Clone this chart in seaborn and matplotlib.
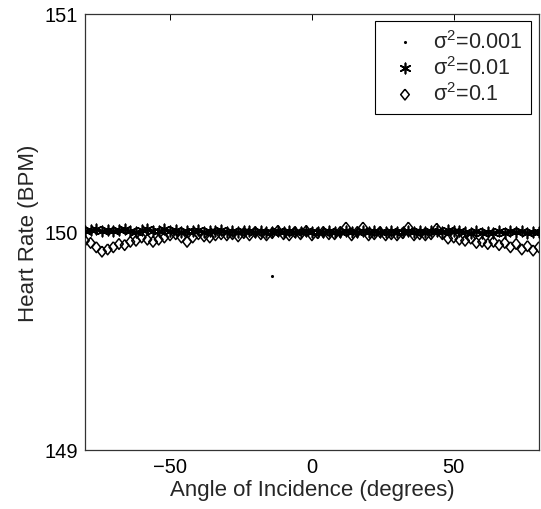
import numpy as np
import pandas as pd
import seaborn as sns
import matplotlib.pyplot as plt

# ---------------- data ----------------
angles = [-80, -78, -76, -74, -72, -70, -68, -66, -64, -62, -60, -58, -56, -54, -52, -50,
          -48, -46, -44, -42, -40, -38, -36, -34, -32, -30, -28, -26, -24, -22, -20, -18,
          -16, -14, -12, -10, -8, -6, -4, -2, 0, 2, 4, 6, 8, 10, 12, 14, 16, 18, 20, 22,
          24, 26, 28, 30, 32, 34, 36, 38, 40, 42, 44, 46, 48, 50, 52, 54, 56, 58, 60, 62,
          64, 66, 68, 70, 72, 74, 76, 78, 80]

hr_var_0001 = [150.000, 150.000, 150.000, 150.000, 150.000, 150.000, 150.000, 150.000,
               150.000, 150.000, 150.000, 150.000, 150.000, 150.000, 150.000, 150.000,
               150.000, 150.000, 150.000, 150.000, 150.000, 150.000, 150.000, 150.000,
               150.000, 150.000, 150.000, 150.000, 150.000, 150.000, 150.000, 150.000,
               150.000, 149.800, 150.000, 150.000, 150.000, 150.000, 150.000, 150.000,
               150.000, 150.000, 150.000, 150.000, 150.000, 150.000, 150.000, 150.000,
               150.000, 150.000, 150.000, 150.000, 150.000, 150.000, 150.000, 150.000,
               150.000, 150.000, 150.000, 150.000, 150.000, 150.000, 150.000, 150.000,
               150.000, 150.000, 150.000, 150.000, 150.000, 150.000, 150.000, 150.000,
               150.000, 150.000, 150.000, 150.000, 150.000, 150.000, 150.000, 150.000,
               150.000]

hr_var_001 = [150.004, 150.008, 150.012, 150.006, 150.010, 150.004, 150.008, 150.012,
              150.006, 150.002, 150.010, 150.014, 150.004, 150.006, 150.012, 150.004,
              150.008, 150.002, 150.006, 150.004, 150.010, 150.002, 150.006, 150.004,
              150.008, 150.002, 150.006, 150.000, 150.004, 150.006, 150.002, 150.004,
              149.998, 150.002, 150.004, 150.000, 150.004, 150.002, 149.998, 150.004,
              150.000, 150.002, 149.998, 150.004, 150.000, 150.002, 150.004, 149.998,
              150.002, 150.006, 150.000, 150.004, 150.002, 149.998, 150.004, 150.002,
              150.000, 150.006, 150.002, 150.004, 150.000, 150.004, 150.006, 150.002,
              150.008, 150.004, 150.006, 150.002, 149.996, 150.004, 149.994, 150.002,
              149.996, 150.006, 149.994, 150.004, 149.998, 150.006, 149.996, 150.002,
              149.998]

hr_var_01 = [149.960, 149.950, 149.930, 149.910, 149.920, 149.930, 149.945, 149.940,
             149.955, 149.960, 149.975, 149.965, 149.955, 149.965, 149.975, 149.985,
             149.990, 149.975, 149.955, 149.975, 149.990, 149.980, 149.975, 149.985,
             149.990, 149.985, 149.990, 149.980, 149.995, 149.985, 150.000, 149.990,
             149.985, 149.995, 150.005, 149.990, 149.985, 150.000, 149.990, 150.005,
             149.985, 149.995, 150.000, 149.990, 149.990, 150.000, 150.020, 149.985,
             150.000, 150.020, 149.985, 149.990, 150.000, 149.985, 149.990, 149.985,
             149.995, 150.020, 149.985, 149.990, 149.985, 149.990, 150.015, 149.990,
             149.970, 149.975, 149.965, 149.960, 149.970, 149.950, 149.955, 149.945,
             149.955, 149.940, 149.950, 149.930, 149.945, 149.920, 149.935, 149.915,
             149.930]

labels = ["σ$^{2}$=0.001", "σ$^{2}$=0.01", "σ$^{2}$=0.1"]
x_ticks = [-50, 0, 50]
y_ticks = [149, 150, 151]

# ---------------- style ----------------
sns.set_theme(style="white")
plt.rcParams['font.family'] = ['Liberation Sans', 'DejaVu Sans']
plt.rcParams['mathtext.fontset'] = 'custom'
plt.rcParams['mathtext.rm'] = 'Liberation Sans'
plt.rcParams['mathtext.it'] = 'Liberation Sans'
plt.rcParams['mathtext.bf'] = 'Liberation Sans'

fig = plt.figure(figsize=(5.41, 5.10), dpi=100)
ax = fig.add_axes([0.157, 0.1157, 0.839, 0.855])

df = pd.DataFrame({"angle": angles, "a": hr_var_0001, "b": hr_var_001, "c": hr_var_01})

diamond = [(0, 1), (0.8, 0), (0, -1), (-0.8, 0), (0, 1)]

sns.scatterplot(data=df, x="angle", y="c", ax=ax, marker=diamond, s=60,
                facecolors="none", edgecolor="black", linewidth=1.1,
                label=labels[2], zorder=2)
sns.scatterplot(data=df, x="angle", y="b", ax=ax, marker=(6, 2, 0), s=55,
                color="black", edgecolor="black", linewidth=1.2,
                label=labels[1], zorder=3)
sns.scatterplot(data=df, x="angle", y="a", ax=ax, marker="o", s=5,
                color="black", edgecolor="black", linewidth=0,
                label=labels[0], zorder=4)

ax.set_xlim(-80, 80)
ax.set_ylim(149, 151)
ax.set_xticks(x_ticks)
ax.set_yticks(y_ticks)
ax.set_xlabel("Angle of Incidence (degrees)", fontsize=16, labelpad=2)
ax.set_ylabel("Heart Rate (BPM)", fontsize=16, labelpad=4)
ax.tick_params(direction="in", top=True, right=True, length=4, width=0.7,
               labelsize=14.5, colors="black", pad=5)
for sp in ax.spines.values():
    sp.set_visible(True)
    sp.set_color("#333333")
    sp.set_linewidth(0.9)

handles, labs = ax.get_legend_handles_labels()
order = [labs.index(l) for l in labels]
leg = ax.legend([handles[i] for i in order], [labs[i] for i in order],
                loc="upper right", frameon=True, fancybox=False,
                edgecolor="black", framealpha=1, fontsize=15.5,
                borderaxespad=0.35, labelspacing=0.15, handletextpad=0.3,
                handlelength=2.0, borderpad=0.4)
leg.get_frame().set_linewidth(0.8)

fig.savefig("out.png", dpi=100)
